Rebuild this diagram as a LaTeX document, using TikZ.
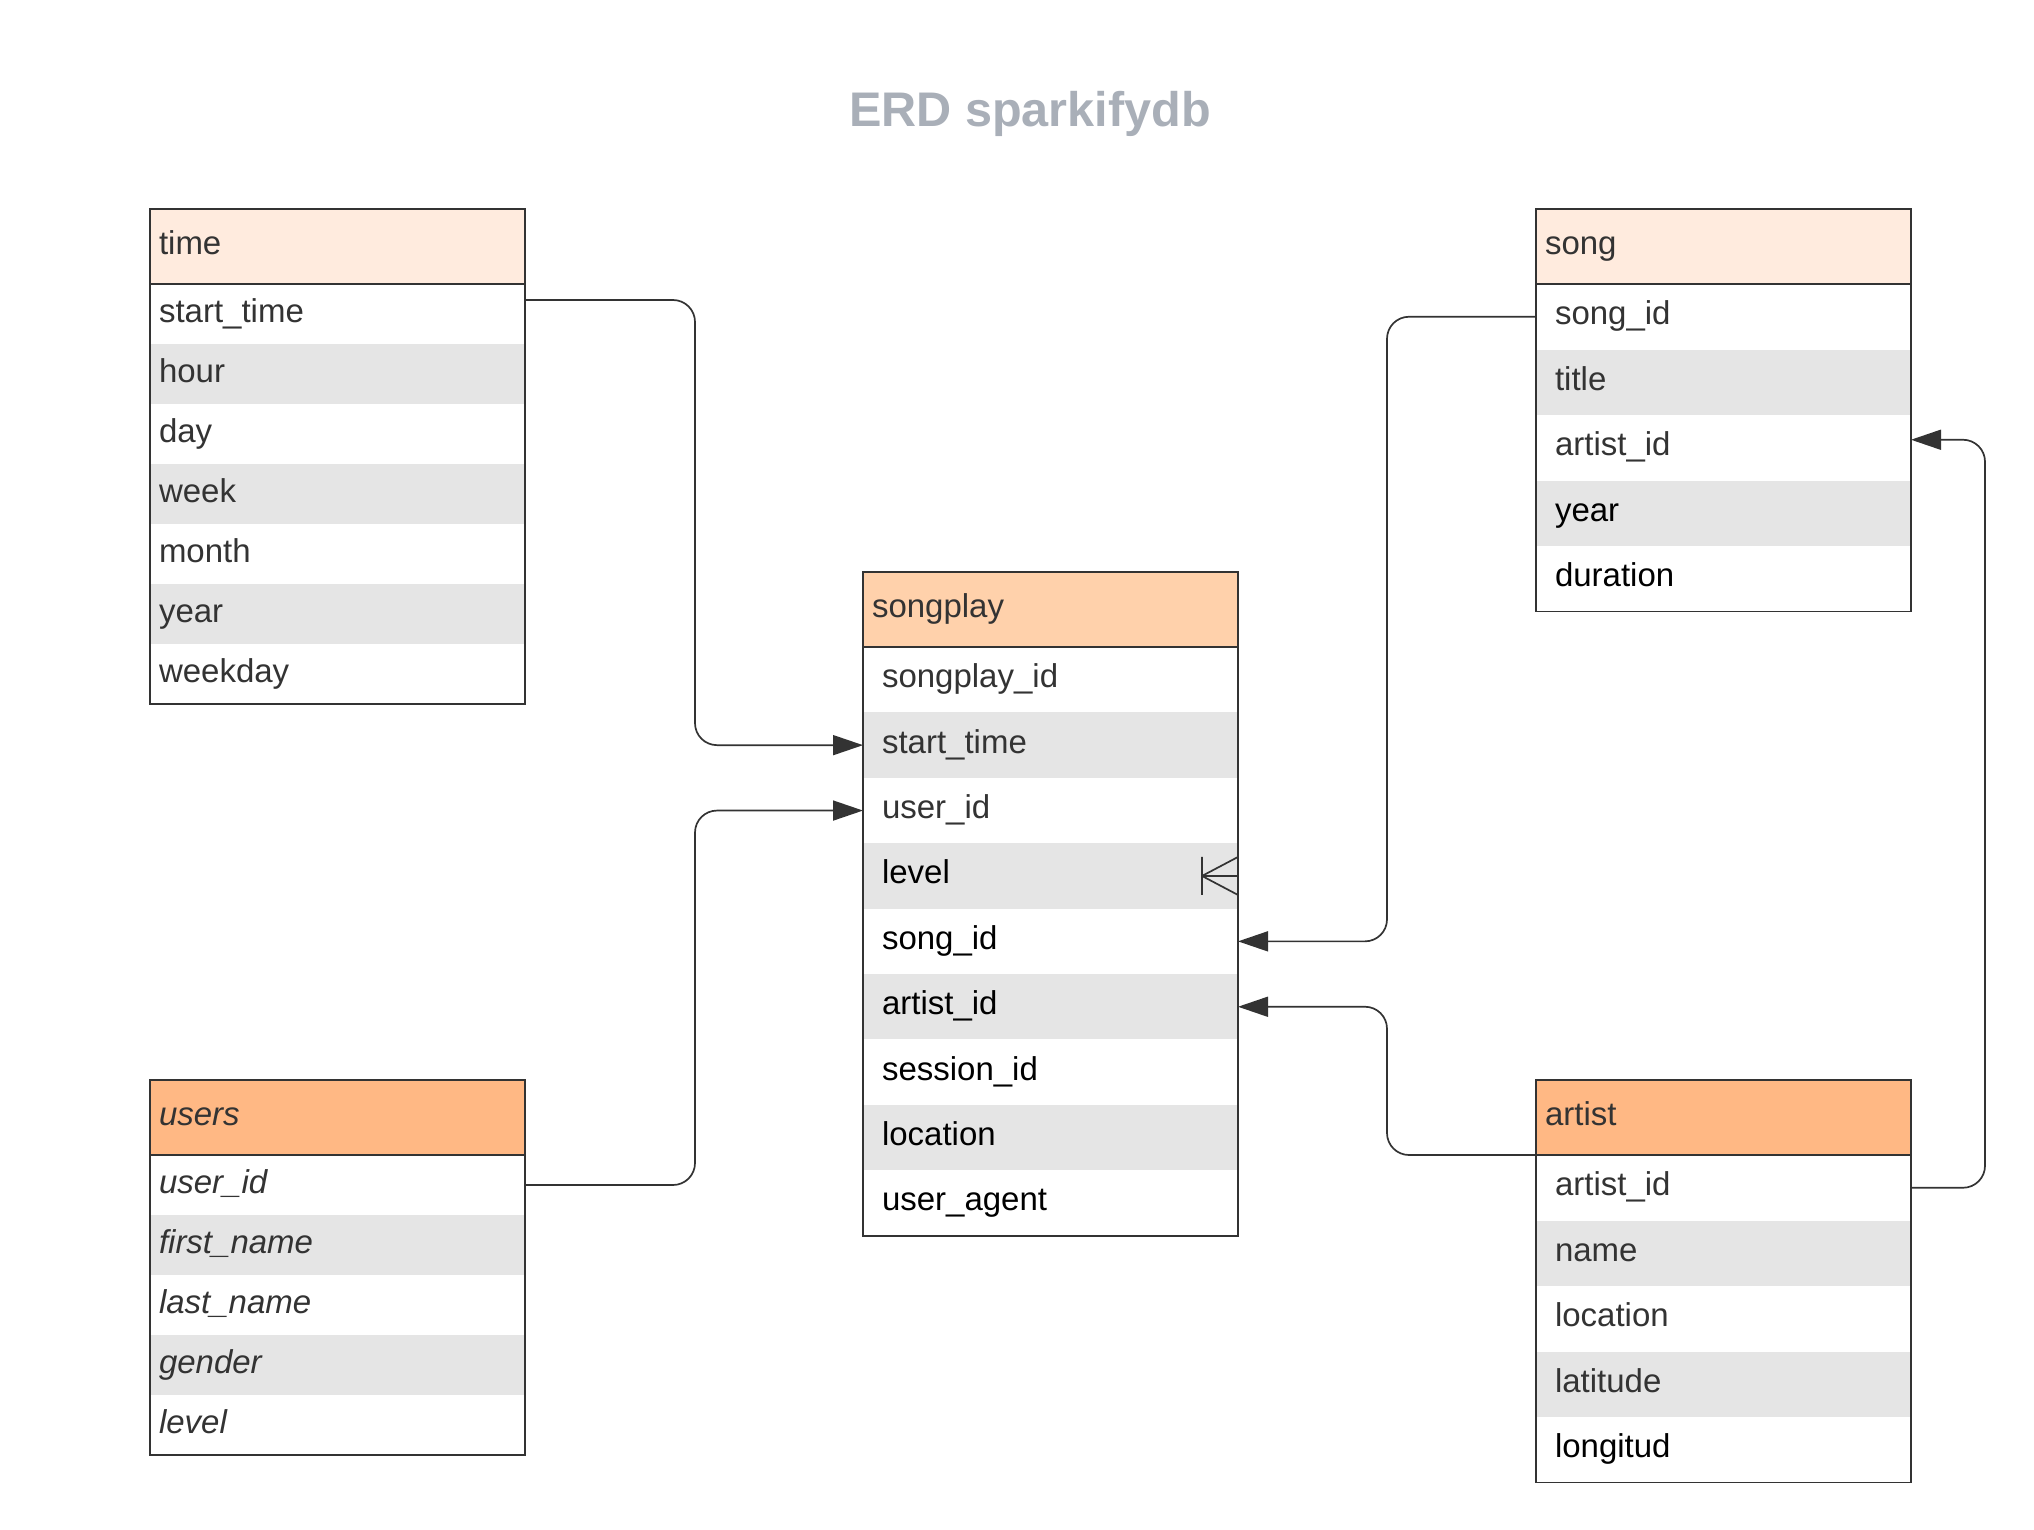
\documentclass[tikz,border=0pt]{standalone}
\usepackage{fontspec}
\setmainfont{Liberation Sans}
\usetikzlibrary{arrows.meta}
\definecolor{ink}{HTML}{333333}
\definecolor{rowgrey}{HTML}{E5E5E5}
\definecolor{peach}{HTML}{FFEBDE}
\definecolor{apricot}{HTML}{FFD1AB}
\definecolor{tangerine}{HTML}{FFB884}
\definecolor{titlegrey}{HTML}{A9AFB8}
\tikzset{
  cell/.style={anchor=north west, outer sep=0pt, minimum width=187.5pt,
    inner xsep=4.5pt, text width=178.5pt, align=left, text=ink,
    text height=12pt, text depth=4pt, font=\fontsize{16.5}{19}\selectfont},
  head/.style={cell, draw=ink, line width=1pt, minimum height=37.5pt},
  field/.style={cell, minimum height=30pt},
  wide/.style={inner xsep=9.5pt, text width=168.5pt, minimum height=32.75pt},
  frame/.style={draw=ink, line width=0.8pt},
  link/.style={draw=ink, line width=0.85pt, rounded corners=11pt},
  fk/.style={-{Triangle[length=15pt,width=10pt]}},
  crow/.style={draw=ink, line width=0.85pt},
}
\begin{document}
\begin{tikzpicture}[x=0.5pt,y=-0.5pt]
  \useasboundingbox (0,0) rectangle (2034,1530);
  \node[font=\bfseries\fontsize{24.3}{28}\selectfont, text=titlegrey] (title) at (1030,114) {ERD sparkifydb};

  % time
  \node[head, fill=peach] (time) at (150,209) {time};
  \foreach \f/\c [count=\i] in {start\_time/white, hour/rowgrey, day/white, week/rowgrey,
      month/white, year/rowgrey, weekday/white}
    \node[field, fill=\c] (time\i) at (150,{284+(\i-1)*60}) {\f};
  \draw[frame] (time.north west) rectangle (time7.south east) (time.south west) -- (time.south east);

  % users
  \node[head, fill=tangerine, font=\itshape\fontsize{16.5}{19}\selectfont] (users) at (150,1080) {users};
  \foreach \f/\c [count=\i] in {user\_id/white, first\_name/rowgrey, last\_name/white,
      gender/rowgrey, level/white}
    \node[field, fill=\c, font=\itshape\fontsize{16.5}{19}\selectfont] (users\i) at (150,{1155+(\i-1)*60}) {\f};
  \draw[frame] (users.north west) rectangle (users5.south east) (users.south west) -- (users.south east);

  % songplay
  \node[head, fill=apricot] (sp) at (863,572) {songplay};
  \foreach \f/\c/\t [count=\i] in {songplay\_id/white/ink, start\_time/rowgrey/ink,
      user\_id/white/ink, level/rowgrey/black, song\_id/white/black, artist\_id/rowgrey/black,
      session\_id/white/black, location/rowgrey/black, user\_agent/white/black}
    \node[field, wide, fill=\c, text=\t] (sp\i) at (863,{647+(\i-1)*65.4}) {\f};
  \draw[frame] (sp.north west) rectangle (sp9.south east) (sp.south west) -- (sp.south east);

  % song
  \node[head, fill=peach] (song) at (1536,209) {song};
  \foreach \f/\c/\t [count=\i] in {song\_id/white/ink, title/rowgrey/ink, artist\_id/white/ink,
      year/rowgrey/black, duration/white/black}
    \node[field, wide, fill=\c, text=\t] (song\i) at (1536,{284+(\i-1)*65.5}) {\f};
  \draw[frame] (song.north west) rectangle (song5.south east) (song.south west) -- (song.south east);

  % artist
  \node[head, fill=tangerine] (artist) at (1536,1080) {artist};
  \foreach \f/\c/\t [count=\i] in {artist\_id/white/ink, name/rowgrey/ink, location/white/ink,
      latitude/rowgrey/ink, longitud/white/black}
    \node[field, wide, fill=\c, text=\t] (artist\i) at (1536,{1155+(\i-1)*65.5}) {\f};
  \draw[frame] (artist.north west) rectangle (artist5.south east) (artist.south west) -- (artist.south east);

  % connectors
  \coordinate (lbus) at (695,0);
  \coordinate (rbus) at (1387,0);
  \coordinate (fbus) at (1985,0);
  \coordinate (timefk) at ([yshift=7pt]time1.east);
  \coordinate (songfk) at ([yshift=4pt]song3.east);
  \draw[link, fk] (timefk) -| (lbus |- sp2.west) -- (sp2.west);
  \draw[link, fk] (users1.east) -| (lbus |- sp3.west) -- (sp3.west);
  \draw[link, fk] (song1.west) -| (rbus |- sp5.east) -- (sp5.east);
  \draw[link, fk] (artist.south west) -| (rbus |- sp6.east) -- (sp6.east);
  \draw[link, fk] (artist1.east) -| (fbus |- songfk) -- (songfk);

  % many side on level
  \draw[crow] ([xshift=-18pt]sp4.east) -- (sp4.east)
    ([xshift=-18pt]sp4.east) -- ([yshift=9.5pt]sp4.east)
    ([xshift=-18pt]sp4.east) -- ([yshift=-9.5pt]sp4.east)
    ([xshift=-18pt,yshift=9.5pt]sp4.east) -- ([xshift=-18pt,yshift=-9.5pt]sp4.east);
\end{tikzpicture}
\end{document}
